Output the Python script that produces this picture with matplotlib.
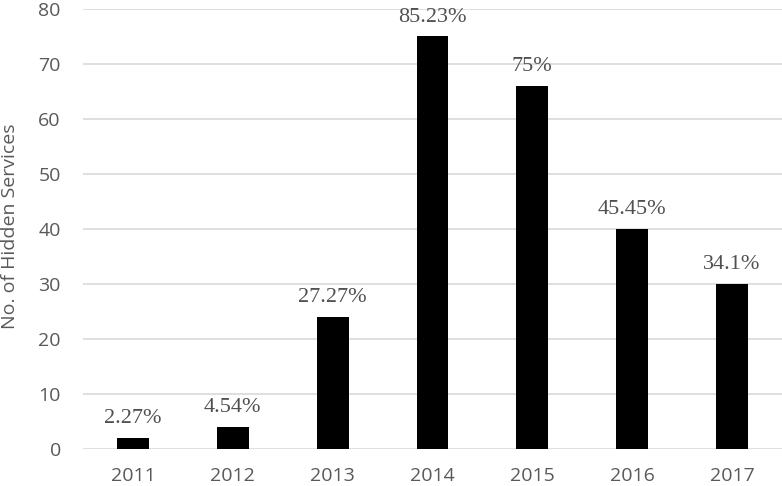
import matplotlib
matplotlib.use("Agg")
import matplotlib.pyplot as plt

years = ["2011", "2012", "2013", "2014", "2015", "2016", "2017"]
counts = [2, 4, 24, 75, 66, 40, 30]
labels = ["2.27%", "4.54%", "27.27%", "85.23%", "75%", "45.45%", "34.1%"]

fig = plt.figure(figsize=(7.82, 4.86), dpi=100)
ax = fig.add_axes([83 / 782, 1 - 449 / 486, 699 / 782, 440 / 486])

x = range(len(years))
ax.bar(x, counts, width=0.32, color="black", zorder=3)

# percentage labels above bars
for xi, c, lab in zip(x, counts, labels):
    ax.annotate(lab, (xi, c), xytext=(0, 7), textcoords="offset points",
                ha="center", va="bottom", fontsize=16,
                family="Liberation Serif", color="#505050")

ax.set_xlim(-0.5, len(years) - 0.5)
ax.set_ylim(0, 80)
ax.set_yticks(range(0, 81, 10))
ax.set_xticks(list(x))
ax.set_xticklabels(years)
ax.grid(axis="y", color="#d9d9d9", linewidth=1.2, zorder=0)
for s in ax.spines.values():
    s.set_visible(False)
ax.tick_params(length=0, labelsize=14, labelcolor="#595959")
ax.tick_params(axis="x", pad=13)
ax.tick_params(axis="y", pad=16)
for t in ax.get_xticklabels() + ax.get_yticklabels():
    t.set_family("Open Sans")
fig.text(10 / 782, 1 - 226 / 486, "No. of Hidden Services", rotation=90,
         ha="center", va="center", fontsize=14, color="#595959",
         family="Open Sans")

fig.savefig("out.png", dpi=100)
